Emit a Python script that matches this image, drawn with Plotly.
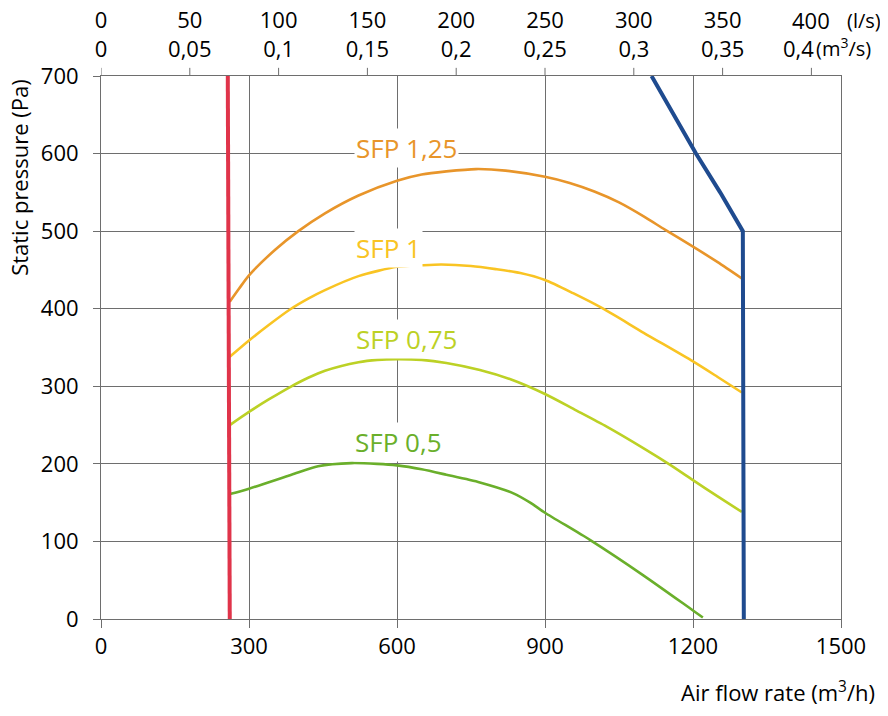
import plotly.graph_objects as go

# Luftmenge in m3/h, statischer Druck in Pa
sfp125_x = [261, 280, 300, 353, 400, 454, 522, 600, 650, 700, 760, 820, 900, 950, 1000, 1050, 1100, 1143, 1200, 1250, 1299]
sfp125_y = [409, 426, 443, 476, 500, 523, 546, 565, 573, 577, 580, 578, 570, 562, 551, 537, 519, 502, 480, 460, 439]

sfp1_x = [261, 300, 340, 383, 420, 454, 522, 600, 650, 690, 750, 800, 850, 900, 957, 1018, 1100, 1200, 1250, 1299]
sfp1_y = [338, 359, 379, 399, 413, 424, 442, 454, 456, 457, 455, 451, 446, 437, 420, 400, 369, 332, 312, 292]

sfp075_x = [261, 300, 340, 386, 420, 454, 522, 560, 600, 650, 700, 768, 830, 900, 960, 1025, 1100, 1153, 1200, 1250, 1299]
sfp075_y = [250, 267, 283, 300, 311, 320, 331, 334, 335, 334, 330, 321, 309, 290, 270, 248, 220, 199, 179, 158, 138]

sfp05_x = [261, 300, 386, 440, 508, 560, 600, 650, 700, 768, 836, 870, 900, 991, 1100, 1200, 1220]
sfp05_y = [161, 168, 186, 197, 201, 200, 198, 193, 186, 176, 162, 150, 137, 102, 56, 11, 2]

min_x = [257, 261]
min_y = [700, 0]

max_x = [1116, 1160, 1206, 1255, 1301, 1303]
max_y = [700, 650, 600, 550, 500, 0]

x_ticks = [0, 300, 600, 900, 1200, 1500]
ls_ticks = [0, 50, 100, 150, 200, 250, 300, 350, 400]
m3s_labels = ["0", "0,05", "0,1", "0,15", "0,2", "0,25", "0,3", "0,35", "0,4"]

# Beschriftungen der Kurven: Text, linke Kante (m3/h), Mitte (Pa)
labels = [("SFP 1,25", 513, 607), ("SFP 1", 513, 478), ("SFP 0,75", 513, 361), ("SFP 0,5", 511, 228)]

colors = {
    "SFP 1,25": "#e8952a",
    "SFP 1": "#f9c423",
    "SFP 0,75": "#bcd125",
    "SFP 0,5": "#6aaf2b",
}
grid = "#6e6e6e"
font = "Open Sans"
row1, row2 = 1.103, 1.052  # Zeilen der oberen Achse (paper)

fig = go.Figure()

curves = [("SFP 1,25", sfp125_x, sfp125_y), ("SFP 1", sfp1_x, sfp1_y),
          ("SFP 0,75", sfp075_x, sfp075_y), ("SFP 0,5", sfp05_x, sfp05_y)]
for name, xs, ys in curves:
    fig.add_trace(go.Scatter(x=xs, y=ys, mode="lines", name=name,
                             line=dict(color=colors[name], width=2.6, shape="spline", smoothing=0.7)))

fig.add_trace(go.Scatter(x=min_x, y=min_y, mode="lines", line=dict(color="#e0344a", width=4)))
fig.add_trace(go.Scatter(x=max_x, y=max_y, mode="lines", line=dict(color="#1f4b8f", width=4)))

# unsichtbare Spur, damit die obere Achse gezeichnet wird
fig.add_trace(go.Scatter(x=ls_ticks, y=[0] * len(ls_ticks), xaxis="x2", yaxis="y", mode="markers",
                         marker=dict(opacity=0), hoverinfo="skip"))

for text, lx, ly in labels:
    fig.add_annotation(x=lx, y=ly, text=text, showarrow=False, xanchor="left", yanchor="middle",
                       bgcolor="white", borderpad=1,
                       font=dict(family=font, size=26, color=colors[text]))

fig.add_annotation(xref="paper", yref="paper", x=-0.111, y=0.814, xanchor="center", yanchor="middle",
                   text="Static pressure (Pa)", textangle=-90, showarrow=False,
                   font=dict(family=font, size=22, color="black"))
fig.add_annotation(xref="paper", yref="paper", x=1.049, y=-0.133, xanchor="right", yanchor="middle",
                   text="Air flow rate (m<sup>3</sup>/h)", showarrow=False,
                   font=dict(family=font, size=22, color="black"))

# letzte Beschriftung oben mit Einheiten
fig.add_annotation(xref="x2", yref="paper", x=ls_ticks[-1], y=row1, xanchor="center", yanchor="middle",
                   text=str(ls_ticks[-1]), showarrow=False, font=dict(family=font, size=22, color="black"))
fig.add_annotation(xref="x2", yref="paper", x=ls_ticks[-1] - 7, y=row2, xanchor="center", yanchor="middle",
                   text=m3s_labels[-1], showarrow=False, font=dict(family=font, size=22, color="black"))
fig.add_annotation(xref="paper", yref="paper", x=1.006, y=row1, xanchor="left", yanchor="middle",
                   text="(l/s)", showarrow=False, font=dict(family=font, size=20, color="black"))
fig.add_annotation(xref="paper", yref="paper", x=0.963, y=row2, xanchor="left", yanchor="middle",
                   text="(m<sup>3</sup>/s)", showarrow=False, font=dict(family=font, size=20, color="black"))

fig.update_layout(
    width=872, height=700,
    margin=dict(l=93, r=39, t=68, b=89, autoexpand=False),
    plot_bgcolor="white", paper_bgcolor="white",
    showlegend=False,
    font=dict(family=font, size=22, color="black"),
    xaxis=dict(range=[0, 1500], tickvals=x_ticks, showgrid=True, gridcolor=grid, gridwidth=1,
               zeroline=False, showline=True, linecolor=grid, mirror=True, automargin=False,
               ticks="outside", ticklen=8, tickcolor=grid),
    xaxis2=dict(overlaying="x", side="top", anchor="y", range=[0, 1500 / 3.6],
                tickvals=ls_ticks[:-1],
                ticktext=[f"{a}<br>{b}" for a, b in zip(ls_ticks[:-1], m3s_labels[:-1])],
                showgrid=False, zeroline=False, showline=False, automargin=False,
                ticks="", ticklabelstandoff=14),
    yaxis=dict(range=[0, 700], dtick=100, showgrid=True, gridcolor=grid, gridwidth=1,
               zeroline=False, showline=True, linecolor=grid, mirror=True, automargin=False,
               ticks="outside", ticklen=7, tickcolor=grid, ticklabelstandoff=10),
)

# kurze Striche der oberen Achse an den l/s-Werten
for v in ls_ticks:
    fig.add_shape(type="line", xref="x2", yref="paper", x0=v, x1=v, y0=1.0, y1=1.015,
                  line=dict(color=grid, width=1))

fig.write_html("out.html")
